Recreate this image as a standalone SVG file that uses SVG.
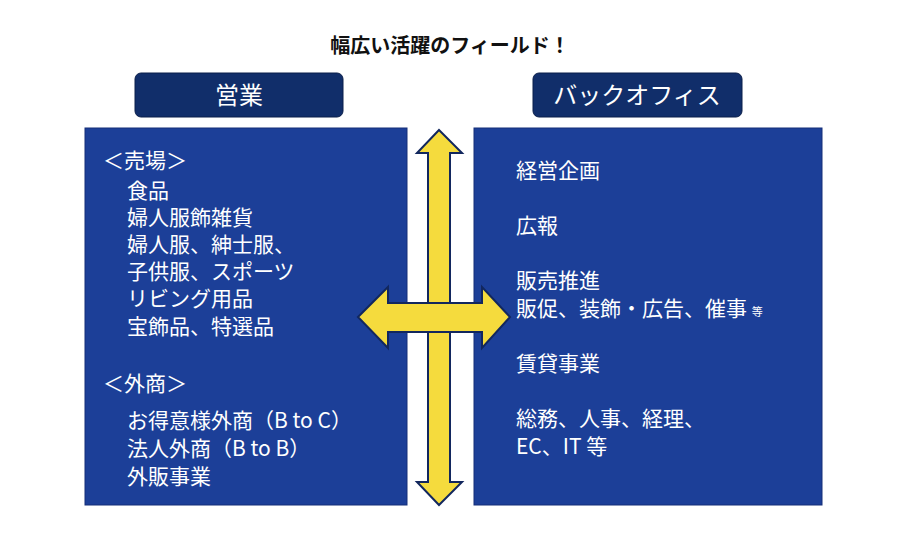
<svg xmlns="http://www.w3.org/2000/svg" width="900" height="540" viewBox="0 0 900 540">
<style>
text{font-family:"Noto Sans CJK JP","Noto Sans",sans-serif;fill:#fff;font-size:21px}
.hd{fill:#112e6a;stroke:#0b1f4a;stroke-width:1}
.pn{fill:#1c3f98;stroke:#142f78;stroke-width:1}
.ar{fill:#f5db3d;stroke:#12275e;stroke-width:2;stroke-linejoin:miter}
</style>
<rect width="900" height="540" fill="#fff"/>
<text x="450" y="53" text-anchor="middle" style="fill:#111;font-weight:bold;font-size:20px">幅広い活躍のフィールド！</text>
<g id="sales-header"><rect class="hd" x="135" y="73" width="208" height="44" rx="6"/><text x="239" y="104" text-anchor="middle" style="font-size:24px">営業</text></g>
<g id="back-header"><rect class="hd" x="533" y="73" width="209" height="44" rx="6"/><text x="637" y="104" text-anchor="middle" style="font-size:24px">バックオフィス</text></g>
<g id="sales-panel"><rect class="pn" x="85" y="128" width="322" height="377"/>
<text x="103" y="168">＜売場＞</text>
<text x="127" y="198">食品</text>
<text x="127" y="225">婦人服飾雑貨</text>
<text x="127" y="252">婦人服、紳士服、</text>
<text x="127" y="279">子供服、スポーツ</text>
<text x="127" y="306">リビング用品</text>
<text x="127" y="334">宝飾品、特選品</text>
<text x="103" y="391">＜外商＞</text>
<text x="127" y="428">お得意様外商（B to C）</text>
<text x="127" y="456">法人外商（B to B）</text>
<text x="127" y="484">外販事業</text>
</g>
<g id="back-panel"><rect class="pn" x="474" y="128" width="348" height="377"/>
<text x="516" y="178">経営企画</text>
<text x="516" y="233">広報</text>
<text x="516" y="288">販売推進</text>
<text x="516" y="316">販促、装飾・広告、催事 <tspan style="font-size:11px">等</tspan></text>
<text x="516" y="371">賃貸事業</text>
<text x="516" y="426">総務、人事、経理、</text>
<text x="516" y="454">EC、IT 等</text>
</g>
<g id="connectors">
<polygon class="ar" points="439,130 462,153 450,153 450,482 462,482 439,505 417,482 428,482 428,153 417,153"/>
<polygon class="ar" points="358,317 388,287 388,303 482,303 482,287 510,317 482,348 482,332 388,332 388,348"/>
</g>
</svg>
